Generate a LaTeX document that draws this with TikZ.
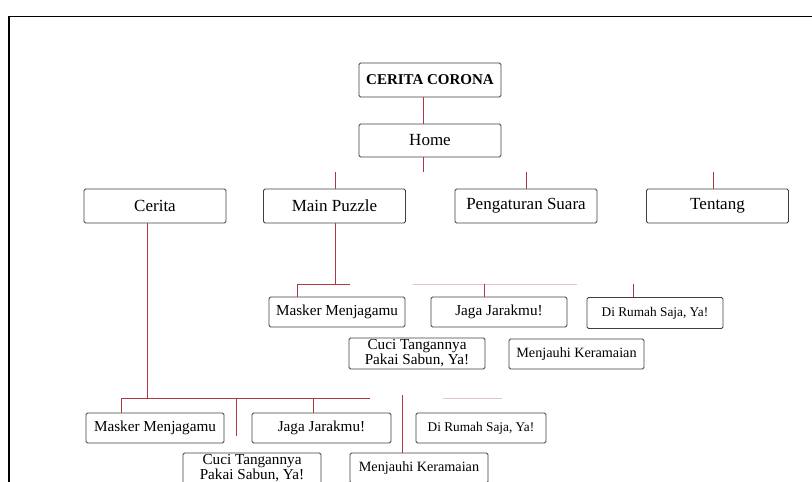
\documentclass[tikz,border=0pt]{standalone}
\usepackage{fontspec}
\setmainfont{Liberation Serif}
\definecolor{linkred}{RGB}{175,55,70}
\tikzset{
  % Page frame
  edgeframe/.style={line width=1.4pt},
  % General box
  box/.style={draw=black!75, line width=0.8pt, rounded corners=1.5pt,
    fill=white, inner sep=0pt, align=center},
  % Menu box
  mbox/.style={box, minimum width=142pt, minimum height=34pt,
    font=\fontsize{17}{19}\selectfont},
  % Sub menu box
  sbox/.style={box, minimum width=136pt, minimum height=30pt,
    font=\fontsize{15.2}{15}\selectfont},
  % Smaller sub menu text
  stext/.style={font=\fontsize{13.3}{15}\selectfont},
  mtext/.style={font=\fontsize{14.2}{15}\selectfont},
  % Connectors
  link/.style={linkred, line width=0.6pt},
  flink/.style={linkred!30, line width=0.6pt},
}

\begin{document}
\begin{tikzpicture}[x=1pt, y=-1pt]
  \useasboundingbox (0,0) rectangle (812,482);

  \draw[edgeframe] (9,482) -- (9,16.5) -- (812,16.5);

  % Top
  \node[mbox, font=\bfseries\fontsize{15}{17}\selectfont] (cc) at (430,80) {CERITA CORONA};
  \node[mbox, minimum height=33pt] (home) at (430,140.5) {Home};

  % Menu
  \node[mbox] (cerita) at (155,206) {Cerita};
  \node[mbox] (puzzle) at (334.5,206) {Main Puzzle};
  \node[mbox] (suara) at (526,206) {Pengaturan Suara};
  \node[mbox] (tentang) at (717.5,206) {Tentang};

  % Main Puzzle items
  \node[sbox] (masker) at (337,312) {Masker Menjagamu};
  \node[sbox] (jarak) at (499,312) {Jaga Jarakmu!};
  \node[sbox, stext, minimum height=31pt] (rumah) at (655,313) {Di Rumah Saja, Ya!};
  \node[sbox, minimum height=31pt] (cuci) at (417,353.5) {Cuci Tangannya\\Pakai Sabun, Ya!};
  \node[sbox, mtext, minimum width=135pt] (ramai) at (576.5,354) {Menjauhi Keramaian};

  % Cerita items
  \node[sbox, minimum width=138pt] (maskerc) at (155,428) {Masker Menjagamu};
  \node[sbox, minimum width=139pt] (jarakc) at (321.5,428) {Jaga Jarakmu!};
  \node[sbox, stext, minimum width=130pt] (rumahc) at (481,428) {Di Rumah Saja, Ya!};
  \node[sbox, minimum width=138pt, minimum height=31pt] (cucic) at (252,468.5) {Cuci Tangannya\\Pakai Sabun, Ya!};
  \node[sbox, mtext, minimum width=138pt] (ramaic) at (419,468) {Menjauhi Keramaian};

  % Top connectors
  \draw[link] ([xshift=-7pt]cc.south) -- ([xshift=-7pt]home.north);
  \coordinate (hs) at (423,172);
  \draw[link] ([xshift=-7pt]home.south) -- (hs);
  \foreach \n/\dx in {puzzle/0.5, suara/0, tentang/-4.5}
    \draw[link] ([xshift=\dx pt]\n.north) -- ++(0,-17);

  % Main Puzzle connectors
  \coordinate (pbus) at (335,284);
  \coordinate (pl) at (297,284);
  \coordinate (pj) at (484,284);
  \coordinate (pr) at (633,284);
  \draw[link] ([xshift=0.5pt]puzzle.south) -- (pbus) -- ++(15,0);
  \draw[link] (pbus) -- (pl) -- (pl |- masker.north);
  \draw[flink] (413,284) -- (577,284);
  \draw[link] (pj) -- (pj |- jarak.north);
  \draw[link] (pr) -- (pr |- rumah.north);

  % Cerita connectors
  \coordinate (cbus) at (147,398);
  \coordinate (cl) at (121,398);
  \coordinate (cr) at (370,398);
  \coordinate (cj) at (313,398);
  \coordinate (cs) at (236,398);
  \coordinate (cse) at (236,436);
  \coordinate (cm) at (402,395);
  \draw[link] ([xshift=-8pt]cerita.south) -- (cbus);
  \draw[link] (cl) -- (cr);
  \draw[link] (cl) -- (cl |- maskerc.north);
  \draw[link] (cj) -- (cj |- jarakc.north);
  \draw[link] (cs) -- (cse);
  \draw[link] (cm) -- (cm |- ramaic.north);
  \draw[flink] (443,398) -- (502,398);
\end{tikzpicture}
\end{document}
